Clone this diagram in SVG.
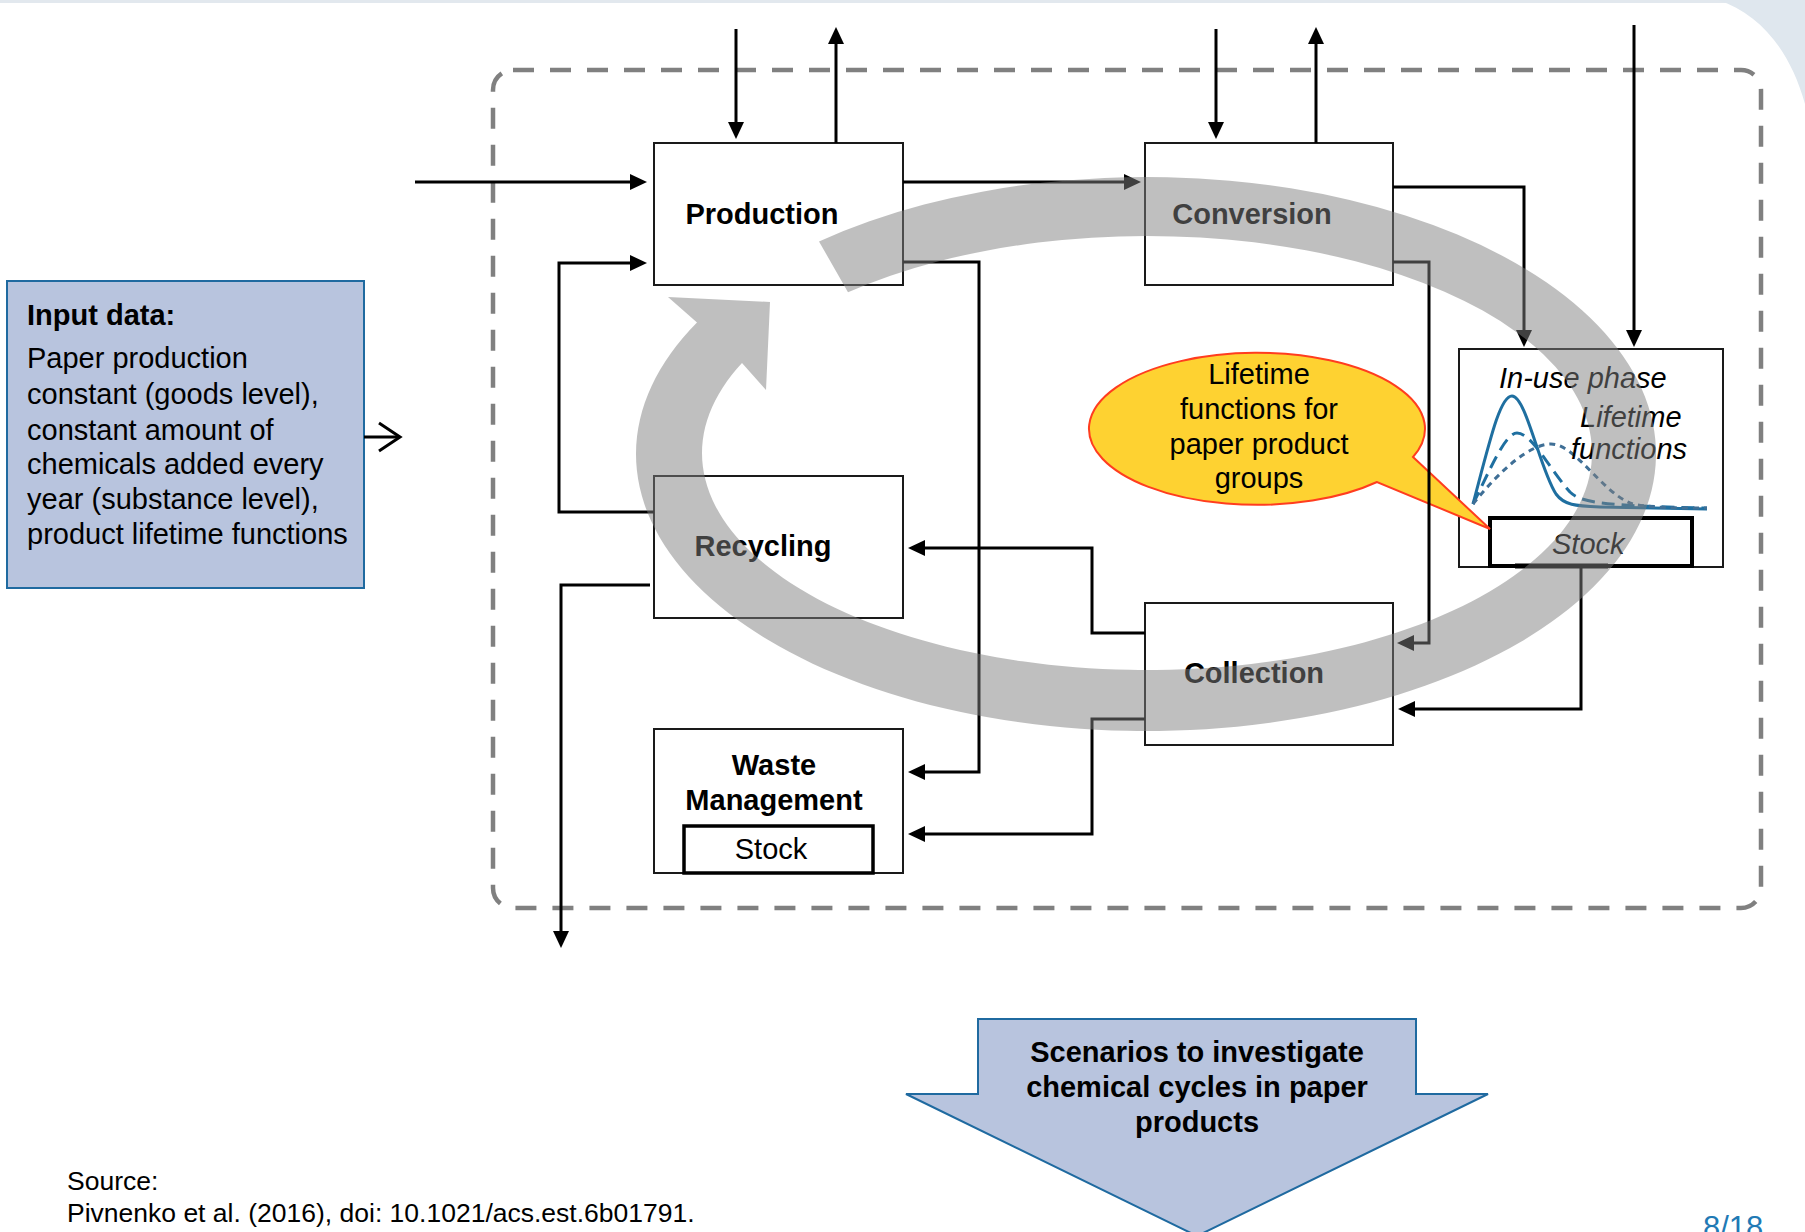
<svg xmlns="http://www.w3.org/2000/svg" width="1805" height="1232" viewBox="0 0 1805 1232">
  <style>
    .box { fill: #ffffff; stroke: #1a1a1a; stroke-width: 2; }
    .stock { fill: #ffffff; stroke: #000000; stroke-width: 4; }
    .t { font-family: "Liberation Sans", Arial, sans-serif; font-size: 29px; fill: #000000; }
    .src { font-family: "Liberation Sans", Arial, sans-serif; font-size: 26.5px; fill: #000000; }
    .b { font-weight: bold; }
    .i { font-style: italic; }
    .mid { text-anchor: middle; }
    .conn { fill: none; stroke: #000000; stroke-width: 3; }
    .conn-a { marker-end: url(#ah); }
    .curve { fill: none; stroke: #1f6fa0; stroke-width: 3; }
    .blue-shape { fill: #b8c4de; stroke: #1f6aa0; stroke-width: 2; }
  </style>
  <defs>
    <marker id="ah" markerUnits="userSpaceOnUse" markerWidth="17" markerHeight="16" viewBox="0 0 17 16" refX="9" refY="8" orient="auto">
      <path d="M0,0 L17,8 L0,16 Z" fill="#000000"/>
    </marker>
  </defs>

  <!-- page background accents -->
  <rect x="0" y="0" width="1805" height="3" fill="#e2e8ee"/>
  <path d="M1718,0 C1760,14 1790,50 1805,104 L1805,0 Z" fill="#dfe7ee"/>

  <!-- system boundary -->
  <rect id="system-boundary" x="493" y="70" width="1268" height="838" rx="20" ry="20" fill="none" stroke="#808080" stroke-width="4.5" stroke-dasharray="21 16"/>

  <!-- input data box -->
  <g id="input-data">
    <rect x="7" y="281" width="357" height="307" class="blue-shape"/>
    <text class="t b" x="27" y="325">Input data:</text>
    <text class="t" x="27" y="368">Paper production</text>
    <text class="t" x="27" y="404">constant (goods level),</text>
    <text class="t" x="27" y="440">constant amount of</text>
    <text class="t" x="27" y="474">chemicals added every</text>
    <text class="t" x="27" y="509">year (substance level),</text>
    <text class="t" x="27" y="544">product lifetime functions</text>
  </g>

  <!-- process nodes -->
  <g id="production">
    <rect class="box" x="654" y="143" width="249" height="142"/>
    <text class="t b mid" x="762" y="224">Production</text>
  </g>
  <g id="conversion">
    <rect class="box" x="1145" y="143" width="248" height="142"/>
    <text class="t b mid" x="1252" y="224">Conversion</text>
  </g>
  <g id="recycling">
    <rect class="box" x="654" y="476" width="249" height="142"/>
    <text class="t b mid" x="763" y="556">Recycling</text>
  </g>
  <g id="waste-management">
    <rect class="box" x="654" y="729" width="249" height="144"/>
    <text class="t b mid" x="774" y="775">Waste</text>
    <text class="t b mid" x="774" y="810">Management</text>
    <rect class="stock" x="684" y="826" width="189" height="47" style="stroke-width:3.5"/>
    <text class="t mid" x="771" y="859">Stock</text>
  </g>
  <g id="collection">
    <rect class="box" x="1145" y="603" width="248" height="142"/>
    <text class="t b mid" x="1254" y="683">Collection</text>
  </g>
  <g id="in-use-phase">
    <rect class="box" x="1459" y="349" width="264" height="218"/>
    <text class="t i" x="1499" y="388">In-use phase</text>
    <path class="curve" d="M1473,504 C1490,440 1500,396 1512,396 C1526,396 1540,470 1556,494 C1564,505 1575,506 1600,507 L1707,509"/>
    <path class="curve" stroke-dasharray="13 7" d="M1473,504 C1490,470 1505,433 1517,433 C1532,433 1550,470 1570,492 C1580,502 1600,506 1707,508"/>
    <path class="curve" stroke-dasharray="6 5" style="stroke:#3f6f96" d="M1473,504 C1500,470 1530,444 1551,444 C1575,444 1600,490 1630,503 C1645,508 1680,508 1707,508"/>
    <text class="t i" x="1580" y="427">Lifetime</text>
    <text class="t i" x="1571" y="459">functions</text>
    <rect class="stock" x="1490" y="518" width="202" height="48"/>
    <line x1="1515" y1="566" x2="1608" y2="566" stroke="#000000" stroke-width="5"/>
    <text class="t i" x="1552" y="554">Stock</text>
  </g>

  <!-- callout -->
  <g id="lifetime-callout">
    <path d="M1413,457 L1490,529 L1377,482 A168,76 0 1 1 1413,457 Z" fill="#fed231" stroke="#ff3d1f" stroke-width="2"/>
    <text class="t mid" x="1259" y="384">Lifetime</text>
    <text class="t mid" x="1259" y="419">functions for</text>
    <text class="t mid" x="1259" y="454">paper product</text>
    <text class="t mid" x="1259" y="488">groups</text>
  </g>

  <!-- flows -->
  <g id="connectors">
    <path class="conn" d="M364,437 H398"/>
    <path class="conn" d="M379,423 L400,437 L379,451"/>
    <path class="conn conn-a" d="M415,182 H639"/>
    <path class="conn conn-a" d="M736,29 V131"/>
    <path class="conn conn-a" d="M836,143 V35"/>
    <path class="conn conn-a" d="M903,182 H1133"/>
    <path class="conn conn-a" d="M1216,29 V131"/>
    <path class="conn conn-a" d="M1316,143 V35"/>
    <path class="conn conn-a" d="M1393,187 H1524 V339"/>
    <path class="conn conn-a" d="M1634,25 V339"/>
    <path class="conn conn-a" d="M1393,262 H1429 V643 H1405"/>
    <path class="conn conn-a" d="M1581,567 V709 H1406"/>
    <path class="conn conn-a" d="M1145,633 H1092 V548 H916"/>
    <path class="conn conn-a" d="M1145,719 H1092 V834 H916"/>
    <path class="conn conn-a" d="M903,262 H979 V772 H916"/>
    <path class="conn conn-a" d="M654,512 H559 V263 H639"/>
    <path class="conn conn-a" d="M650,585 H561 V940"/>
  </g>

  <!-- material cycle band -->
  <path id="cycle-band" d="M819,241.4 A510,277 0 1 1 697,322.6 L668,297 L770,302 L766,390 L742,363.1 A445,217 0 1 0 848,292.3 Z" fill="#808080" fill-opacity="0.5"/>

  <!-- scenario arrow -->
  <g id="scenarios">
    <path class="blue-shape" d="M978,1019 H1416 V1094 H1488 L1197,1236 L906,1094 H978 Z"/>
    <text class="t b mid" x="1197" y="1062">Scenarios to investigate</text>
    <text class="t b mid" x="1197" y="1097">chemical cycles in paper</text>
    <text class="t b mid" x="1197" y="1132">products</text>
  </g>

  <!-- footer -->
  <text class="src" x="67" y="1190">Source:</text>
  <text class="src" x="67" y="1222">Pivnenko et al. (2016), doi: 10.1021/acs.est.6b01791.</text>
  <text x="1703" y="1238" font-family="Liberation Sans, Arial, sans-serif" font-size="31" fill="#1f7ab5">8/18</text>
</svg>
